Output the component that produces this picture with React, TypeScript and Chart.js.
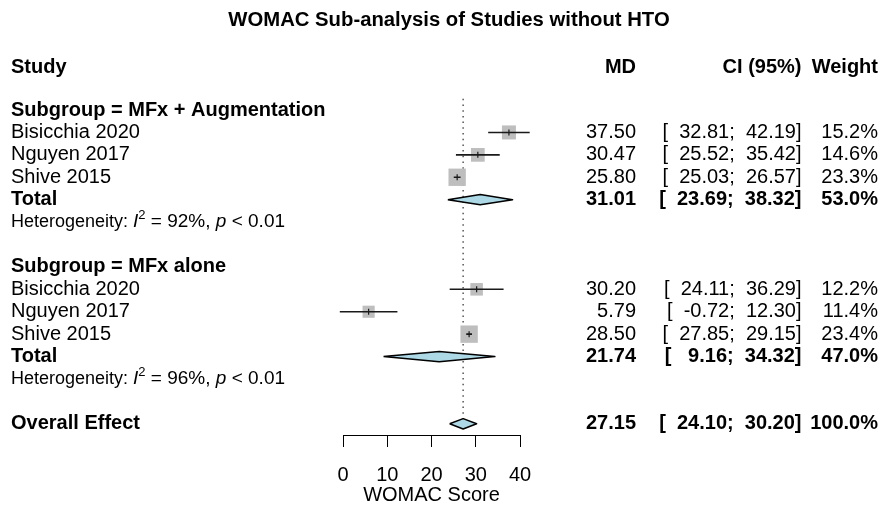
import { useEffect, useRef } from "react";
import { Chart, registerables } from "chart.js";

Chart.register(...registerables);

// ---- text and data ----
const chartTitle = "WOMAC Sub-analysis of Studies without HTO";
const axisTitle = "WOMAC Score";
const xTickValues = [0, 10, 20, 30, 40];
const columnHeaders = ["Study", "MD", "CI (95%)", "Weight"];

const subgroupTitles = ["Subgroup = MFx + Augmentation", "Subgroup = MFx alone"];
const subgroupRows = [0, 7];

const studyNames = ["Bisicchia 2020", "Nguyen 2017", "Shive 2015", "Bisicchia 2020", "Nguyen 2017", "Shive 2015"];
const studyRows = [1, 2, 3, 8, 9, 10];
const studyMD = [37.5, 30.47, 25.8, 30.2, 5.79, 28.5];
const studyLower = [32.81, 25.52, 25.03, 24.11, -0.72, 27.85];
const studyUpper = [42.19, 35.42, 26.57, 36.29, 12.3, 29.15];
const studyWeight = [15.2, 14.6, 23.3, 12.2, 11.4, 23.4];

const pooledLabels = ["Total", "Total", "Overall Effect"];
const pooledRows = [4, 11, 14];
const pooledMD = [31.01, 21.74, 27.15];
const pooledLower = [23.69, 9.16, 24.1];
const pooledUpper = [38.32, 34.32, 30.2];
const pooledWeight = [53.0, 47.0, 100.0];

const hetRows = [5, 12];
const hetI2 = [92, 96];
const hetP = ["< 0.01", "< 0.01"];

// ---- layout constants ----
const W = 881;
const H = 505;
const AXIS_HEIGHT = 70;
const HEADER_ROW = -1.9;
const REF_TOP_ROW = -0.5;
const DIAMOND_HALF = 0.23;
const LEFT_X = 11;
const MD_X = 636;
const CI_X = 801.5;
const WEIGHT_X = 878;
const FAMILY = '"Liberation Sans", Arial, Helvetica, sans-serif';
const font = (size: number, weight = "normal", style = "normal") => `${style} ${weight} ${size}px ${FAMILY}`;

const fmtCI = (lo: number, hi: number) => `[  ${lo.toFixed(2).padStart(5, " ")};  ${hi.toFixed(2)}]`;

const forestText = {
  id: "forestText",
  afterDraw(chart: any) {
    const ctx: CanvasRenderingContext2D = chart.ctx;
    const ys = chart.scales.y;
    const rowY = (r: number) => ys.getPixelForValue(r);
    ctx.save();
    ctx.fillStyle = "#000";
    ctx.textBaseline = "middle";

    ctx.font = font(20.3, "bold");
    ctx.textAlign = "center";
    ctx.fillText(chartTitle, 449, 20);

    ctx.font = font(20, "bold");
    const hy = rowY(HEADER_ROW);
    ctx.textAlign = "left";
    ctx.fillText(columnHeaders[0], LEFT_X, hy);
    ctx.textAlign = "right";
    ctx.fillText(columnHeaders[1], MD_X, hy);
    ctx.fillText(columnHeaders[2], CI_X, hy);
    ctx.fillText(columnHeaders[3], WEIGHT_X, hy);

    ctx.textAlign = "left";
    subgroupTitles.forEach((t, i) => ctx.fillText(t, LEFT_X, rowY(subgroupRows[i])));

    const rowValues = (y: number, md: number, lo: number, hi: number, w: number) => {
      ctx.textAlign = "right";
      ctx.fillText(md.toFixed(2), MD_X, y);
      ctx.fillText(fmtCI(lo, hi), CI_X, y);
      ctx.fillText(`${w.toFixed(1)}%`, WEIGHT_X, y);
    };

    ctx.font = font(20);
    studyNames.forEach((name, i) => {
      const y = rowY(studyRows[i]);
      ctx.textAlign = "left";
      ctx.fillText(name, LEFT_X, y);
      rowValues(y, studyMD[i], studyLower[i], studyUpper[i], studyWeight[i]);
    });

    ctx.font = font(20, "bold");
    pooledLabels.forEach((name, i) => {
      const y = rowY(pooledRows[i]);
      ctx.textAlign = "left";
      ctx.fillText(name, LEFT_X, y);
      rowValues(y, pooledMD[i], pooledLower[i], pooledUpper[i], pooledWeight[i]);
    });

    // heterogeneity lines with italic I, superscript 2 and italic p
    ctx.textAlign = "left";
    hetRows.forEach((r, i) => {
      const y = rowY(r);
      let x = LEFT_X;
      const part = (s: string, f: string, dy = 0) => {
        ctx.font = f;
        ctx.fillText(s, x, y + dy);
        x += ctx.measureText(s).width;
      };
      part("Heterogeneity: ", font(18));
      part("I", font(19, "normal", "italic"));
      part("2", font(13), -7);
      part(` = ${hetI2[i]}%, `, font(19));
      part("p", font(19, "normal", "italic"));
      part(` ${hetP[i]}`, font(19));
    });

    ctx.restore();
  },
};

export default function App() {
  const ref = useRef<HTMLCanvasElement | null>(null);

  useEffect(() => {
    document.body.style.margin = "0";
    const canvas = ref.current;
    if (!canvas) return;

    const ciData: any[] = [];
    studyRows.forEach((r, i) => {
      ciData.push({ x: studyLower[i], y: r }, { x: studyUpper[i], y: r }, { x: null, y: null });
    });

    const overall = pooledMD[pooledMD.length - 1];

    const diamonds = pooledRows.map((r, i) => ({
      type: "line" as const,
      data: [
        { x: pooledLower[i], y: r },
        { x: pooledMD[i], y: r - DIAMOND_HALF },
        { x: pooledUpper[i], y: r },
        { x: pooledMD[i], y: r + DIAMOND_HALF },
        { x: pooledLower[i], y: r },
      ],
      fill: "shape",
      backgroundColor: "#add8e6",
      borderColor: "#000",
      borderWidth: 1.5,
      borderJoinStyle: "round" as const,
      pointRadius: 0,
      tension: 0,
      order: 1,
      clip: false,
    }));

    const chart = new Chart(canvas, {
      type: "scatter",
      data: {
        datasets: [
          {
            type: "line",
            data: [
              { x: overall, y: REF_TOP_ROW },
              { x: overall, y: pooledRows[pooledRows.length - 1] },
            ],
            borderColor: "#555",
            borderWidth: 1.5,
            borderDash: [1.5, 4.2],
            pointRadius: 0,
            order: 10,
            clip: false,
          },
          {
            type: "scatter",
            data: studyRows.map((r, i) => ({ x: studyMD[i], y: r })),
            pointStyle: "rect",
            pointRadius: studyWeight.map((w) => 2.54 * Math.sqrt(w)),
            backgroundColor: "#bebebe",
            borderWidth: 0,
            order: 6,
            clip: false,
          },
          {
            type: "line",
            data: ciData,
            borderColor: "#1a1a1a",
            borderWidth: 1.6,
            pointRadius: 0,
            spanGaps: false,
            tension: 0,
            order: 5,
            clip: false,
          },
          {
            type: "scatter",
            data: studyRows.map((r, i) => ({ x: studyMD[i], y: r })),
            pointStyle: "line",
            pointRotation: 90,
            pointRadius: 3,
            borderColor: "#1a1a1a",
            borderWidth: 1.2,
            order: 4,
            clip: false,
          },
          ...diamonds,
        ] as any,
      },
      options: {
        responsive: false,
        maintainAspectRatio: false,
        devicePixelRatio: 1,
        animation: false,
        events: [],
        layout: { padding: { left: 343, right: 361, top: 54, bottom: 0 } },
        plugins: {
          legend: { display: false },
          tooltip: { enabled: false },
          title: { display: false },
        },
        scales: {
          x: {
            type: "linear",
            min: xTickValues[0],
            max: xTickValues[xTickValues.length - 1],
            afterBuildTicks: (scale: any) => {
              scale.ticks = xTickValues.map((v) => ({ value: v }));
            },
            afterFit: (scale: any) => {
              scale.height = AXIS_HEIGHT;
            },
            ticks: {
              color: "#000",
              font: { family: FAMILY, size: 20, lineHeight: 1.2 },
              padding: 16,
              maxRotation: 0,
            },
            grid: {
              drawOnChartArea: false,
              drawTicks: true,
              tickLength: 12,
              color: "#000",
              lineWidth: 1,
            },
            border: { display: true, color: "#000", width: 1 },
            title: {
              display: true,
              text: axisTitle,
              color: "#000",
              font: { family: FAMILY, size: 20, lineHeight: 1 },
              padding: { top: 2, bottom: 0 },
            },
          },
          y: {
            type: "linear",
            display: false,
            reverse: true,
            min: -2.5,
            max: 14.5,
          },
        },
      } as any,
      plugins: [forestText],
    });

    return () => chart.destroy();
  }, []);

  return <canvas ref={ref} width={W} height={H} style={{ display: "block", width: W, height: H }} />;
}
